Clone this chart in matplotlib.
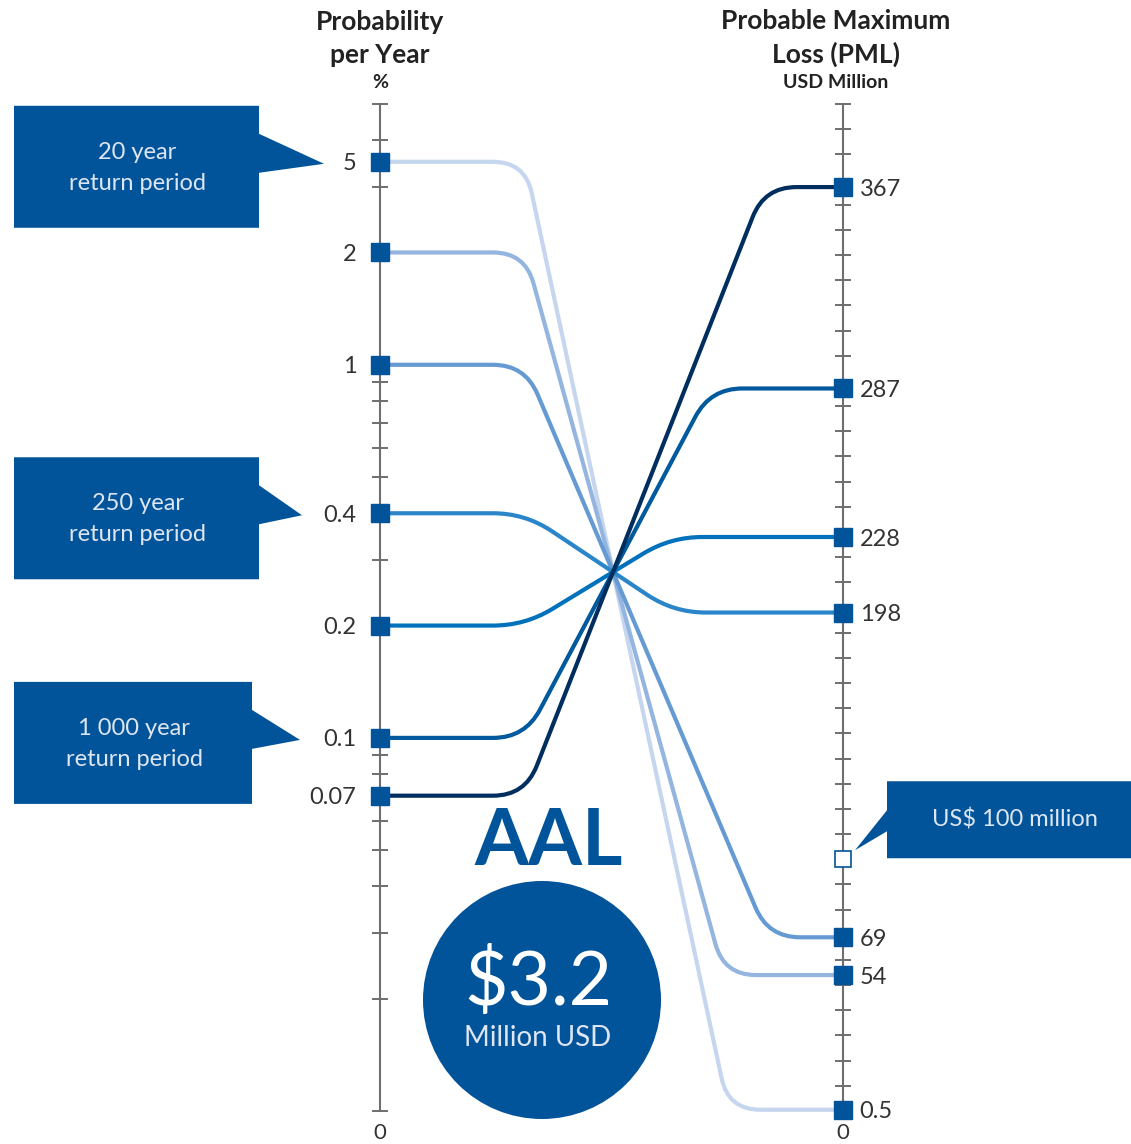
import numpy as np
import matplotlib.pyplot as plt
from matplotlib.path import Path
from matplotlib.patches import PathPatch, Circle, Polygon
from matplotlib.ticker import FixedLocator, MultipleLocator, NullFormatter

# data
prob_labels = ['5', '2', '1', '0.4', '0.2', '0.1', '0.07']
prob_marks = [3.5, 2, 1, 0.4, 0.2, 0.1, 0.07]   # where the squares sit on the log axis
pml = [0.5, 54, 69, 198, 228, 287, 367]
pml_labels = ['0.5', '54', '69', '198', '228', '287', '367']
threshold = 100
aal = 3.2
callouts = ['20 year\nreturn period', '250 year\nreturn period', '1 000 year\nreturn period']
callout_rows = [0, 3, 5]   # which left marker each callout points at

line_colors = ['#c6d6ee', '#93b5df', '#659ad3', '#2b86c9', '#0072bb', '#005a9d', '#002f5f']
blue = '#02549a'
box_text = '#dde6f2'
ink = '#222222'
axis_gray = '#6e6e6e'

plt.rcParams['font.family'] = ['Lato', 'DejaVu Sans']

W, H = 1131, 1144
fig = plt.figure(figsize=(W / 100, H / 100), dpi=100)

# overlay in pixel units for connectors and decorations
ov = fig.add_axes([0, 0, 1, 1])
ov.set_xlim(0, W)
ov.set_ylim(H, 0)
ov.axis('off')

x_left, x_right, y_top, y_bot = 380, 843, 104, 1111
axL = fig.add_axes([x_left / W, (H - y_bot) / H, (x_right - x_left) / W, (y_bot - y_top) / H])
axL.patch.set_visible(False)
axL.set_yscale('log')
axL.set_ylim(0.01, 5)
axL.set_xlim(0, 1)
axR = axL.twinx()
axR.set_ylim(0, 400)
axR.set_xlim(0, 1)

for s in ['top', 'bottom', 'right']:
    axL.spines[s].set_visible(False)
for s in ['top', 'bottom', 'left']:
    axR.spines[s].set_visible(False)
axL.spines['left'].set_color(axis_gray)
axL.spines['left'].set_linewidth(1.5)
axR.spines['right'].set_color(axis_gray)
axR.spines['right'].set_linewidth(1.5)
axL.set_xticks([])

# left: log grid of ticks, labels only at the markers
log_ticks = [m * 10.0 ** k for k in (-2, -1, 0) for m in range(1, 10)]
log_ticks = [t for t in log_ticks if 0.01 <= t <= 5.0001]
axL.yaxis.set_major_locator(FixedLocator(prob_marks))
axL.set_yticklabels(prob_labels)
axL.yaxis.set_minor_locator(FixedLocator(log_ticks))
axL.yaxis.set_minor_formatter(NullFormatter())
axL.tick_params(axis='y', which='major', length=0, pad=17, labelsize=17, labelcolor='#333333')
axL.tick_params(axis='y', which='minor', direction='inout', length=11, width=1.2, color='#555555')

# right: linear ticks every 10
axR.yaxis.set_major_locator(FixedLocator(pml))
axR.set_yticklabels(pml_labels)
axR.yaxis.set_minor_locator(MultipleLocator(10))
axR.tick_params(axis='y', which='major', length=0, pad=12, labelsize=17, labelcolor='#333333')
axR.tick_params(axis='y', which='minor', direction='inout', length=11, width=1.2, color='#555555')

# markers
axL.plot(np.zeros(len(prob_marks)), prob_marks, 's', ms=12.5, color=blue, clip_on=False, zorder=5)
axR.plot(np.ones(len(pml)), pml, 's', ms=12.5, color=blue, clip_on=False, zorder=5)
axR.plot([1], [threshold], 's', ms=12, mfc='white', mec=blue, mew=1.2, clip_on=False, zorder=5)


def to_ov(ax, x, y):
    return ov.transData.inverted().transform(ax.transData.transform((x, y)))


# connectors: flat, rounded bend, straight through a common crossing, rounded bend, flat
cross = np.array([613.0, 572.0])
bend_x = 525.0
r = 32.0
for i in range(len(pml)):
    p0 = to_ov(axL, 0, prob_marks[i])
    p3 = to_ov(axR, 1, pml[i])
    v1 = np.array([bend_x, p0[1]])
    v2 = v1 + (cross - v1) * (p3[1] - v1[1]) / (cross[1] - v1[1])
    d = (v2 - v1) / np.hypot(*(v2 - v1))
    a1 = v1 - [r, 0]
    b1 = v1 + r * d
    a2 = v2 - r * d
    b2 = v2 + [r, 0]
    verts = [p0, a1, v1, b1, a2, v2, b2, p3]
    codes = [Path.MOVETO, Path.LINETO, Path.CURVE3, Path.CURVE3,
             Path.LINETO, Path.CURVE3, Path.CURVE3, Path.LINETO]
    ov.add_patch(PathPatch(Path(verts, codes), fill=False, ec=line_colors[i],
                           lw=3.0, capstyle='butt', joinstyle='round', zorder=2))

# axis headings
ov.text(x_left, 22, 'Probability', ha='center', va='center', fontsize=19, fontweight='bold', color=ink)
ov.text(x_left, 55, 'per Year', ha='center', va='center', fontsize=19, fontweight='bold', color=ink)
ov.text(x_left, 82, '%', ha='center', va='center', fontsize=14, fontweight='bold', color=ink)
ov.text(836, 21, 'Probable Maximum', ha='center', va='center', fontsize=19, fontweight='bold', color=ink)
ov.text(836, 54, 'Loss (PML)', ha='center', va='center', fontsize=19, fontweight='bold', color=ink)
ov.text(836, 82, 'USD Million', ha='center', va='center', fontsize=14, fontweight='bold', color=ink)
ov.text(x_left, 1133, '0', ha='center', va='center', fontsize=16, color='#333333')
ov.text(x_right, 1133, '0', ha='center', va='center', fontsize=16, color='#333333')

# callouts on the left
box_right = [259, 259, 252]
tip_x = [324, 302, 300]
for k, row in enumerate(callout_rows):
    ty = to_ov(axL, 0, prob_marks[row])[1] + 2
    br = box_right[k]
    poly = [(14, ty - 58), (br, ty - 58), (br, ty - 30), (tip_x[k], ty),
            (br, ty + 9), (br, ty + 64), (14, ty + 64)]
    ov.add_patch(Polygon(poly, closed=True, fc=blue, ec='none', zorder=3))
    ov.text((14 + br) / 2 + 1, ty + 4, callouts[k], ha='center', va='center', fontsize=17,
            color=box_text, linespacing=1.6, zorder=4)

# threshold callout on the right
ty = to_ov(axR, 1, threshold)[1]
poly = [(887, ty - 78), (W, ty - 78), (W, ty - 1), (887, ty - 1),
        (887, ty - 28), (855, ty - 9), (887, ty - 49)]
ov.add_patch(Polygon(poly, closed=True, fc=blue, ec='none', zorder=3))
ov.text(1015, ty - 40, 'US$ 100 million', ha='center', va='center', fontsize=17,
        color=box_text, zorder=4)

# AAL badge
ov.text(549, 843, 'AAL', ha='center', va='center', fontsize=56, fontweight='bold', color=blue, zorder=4)
ov.add_patch(Circle((542, 1000), 119, fc=blue, ec='none', zorder=3))
ov.text(538, 982, f'${aal}', ha='center', va='center', fontsize=54,
        color='white', zorder=4)
ov.text(538, 1038, 'Million USD', ha='center', va='center', fontsize=20,
        color=box_text, zorder=4)

fig.savefig('out.png', dpi=100)
